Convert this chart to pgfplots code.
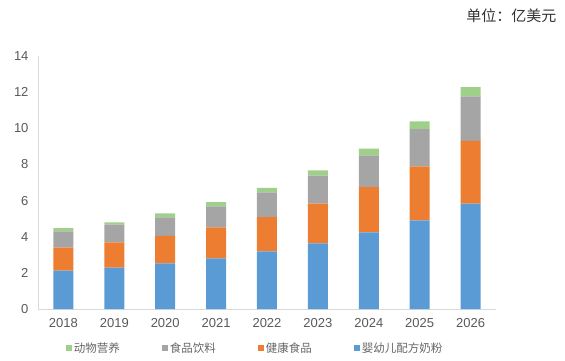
\documentclass[border=0pt]{standalone}
\usepackage{pgfplots}
\pgfplotsset{compat=1.18}
\usepackage{fontspec}
\setmainfont{Liberation Sans}
\newfontfamily\cjk{Noto Sans CJK SC}
\definecolor{cblue}{HTML}{5B9BD5}
\definecolor{corange}{HTML}{ED7D31}
\definecolor{cgray}{HTML}{A5A5A5}
\definecolor{cgreen}{HTML}{9FD08A}
\begin{document}
\begin{tikzpicture}[x=1pt,y=1pt]
\path[use as bounding box] (0,0) rectangle (565,360);
\node[anchor=east, text=black!80, font=\cjk\fontsize{15}{17}\selectfont] at (560,344) {单位：亿美元};
\begin{axis}[at={(38pt,51pt)}, anchor=south west, scale only axis,
  width=458pt, height=253pt,
  ybar stacked, bar width=20pt,
  xmin=-0.5, xmax=8.5, ymin=0, ymax=14,
  ytick={0,2,...,14}, xtick={0,...,8},
  xticklabels={2018,2019,2020,2021,2022,2023,2024,2025,2026},
  axis x line*=bottom, axis y line*=left,
  axis line style={draw=black!15, line width=0.8pt, -},
  major tick length=0pt,
  tick label style={font=\fontsize{13}{15}\selectfont, text=black!65},
  /pgf/number format/assume math mode=true,
  yticklabel style={xshift=-6pt}, xticklabel style={yshift=-6pt},
  reverse legend, legend columns=4,
  legend style={at={(0.474,-0.154)}, anchor=center, draw=none,
    font=\cjk\fontsize{11.5}{13}\selectfont, text=black!60,
    /tikz/every even column/.append style={column sep=40pt}},
  legend image code/.code={\fill[#1] (0pt,-3pt) rectangle (6pt,3pt);},
]
\addplot[fill=cblue, draw=none] coordinates {(0,2.12) (1,2.29) (2,2.52) (3,2.80) (4,3.19) (5,3.63) (6,4.24) (7,4.90) (8,5.83)};
\addplot[fill=corange, draw=none] coordinates {(0,1.27) (1,1.40) (2,1.52) (3,1.72) (4,1.90) (5,2.20) (6,2.51) (7,2.99) (8,3.48)};
\addplot[fill=cgray, draw=none] coordinates {(0,0.90) (1,0.98) (2,1.03) (3,1.16) (4,1.36) (5,1.55) (6,1.75) (7,2.07) (8,2.45)};
\addplot[fill=cgreen, draw=none] coordinates {(0,0.19) (1,0.12) (2,0.22) (3,0.24) (4,0.25) (5,0.29) (6,0.37) (7,0.42) (8,0.52)};
\legend{婴幼儿配方奶粉,健康食品,食品饮料,动物营养}
\end{axis}
\end{tikzpicture}
\end{document}
